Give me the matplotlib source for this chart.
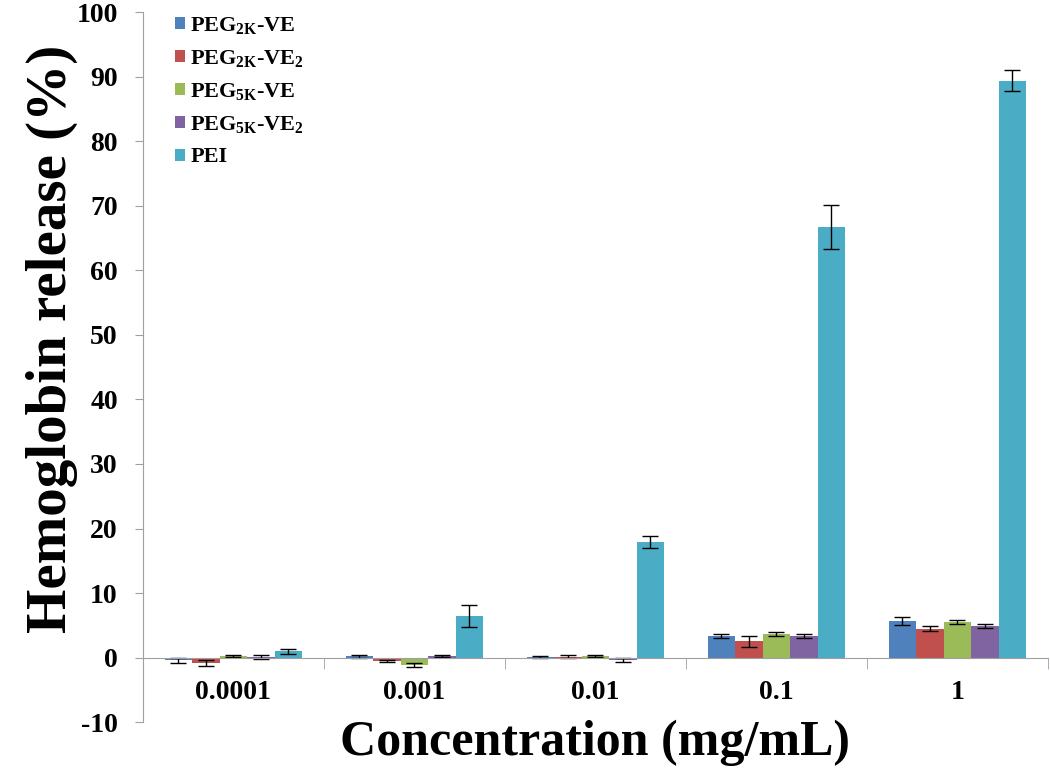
import numpy as np
import matplotlib.pyplot as plt

plt.rcParams['font.family'] = ['Liberation Serif', 'DejaVu Serif']
plt.rcParams['font.weight'] = 'bold'
plt.rcParams['mathtext.default'] = 'regular'
plt.rcParams['axes.unicode_minus'] = False

# Hemoglobin release data (%)
concentrations = ['0.0001', '0.001', '0.01', '0.1', '1']
series_names = ['PEG$_{2K}$-VE', 'PEG$_{2K}$-VE$_{2}$', 'PEG$_{5K}$-VE',
                'PEG$_{5K}$-VE$_{2}$', 'PEI']
peg2k_ve = [-0.4, 0.2, 0.1, 3.3, 5.7]
peg2k_ve_err = [0.4, 0.2, 0.15, 0.3, 0.65]
peg2k_ve2 = [-0.85, -0.5, 0.15, 2.5, 4.5]
peg2k_ve2_err = [0.4, 0.15, 0.25, 0.8, 0.35]
peg5k_ve = [0.2, -1.2, 0.2, 3.7, 5.5]
peg5k_ve_err = [0.15, 0.3, 0.15, 0.3, 0.35]
peg5k_ve2 = [0.1, 0.2, -0.35, 3.4, 4.95]
peg5k_ve2_err = [0.3, 0.15, 0.3, 0.3, 0.3]
pei = [0.95, 6.4, 17.9, 66.7, 89.4]
pei_err = [0.45, 1.7, 0.9, 3.4, 1.6]

values = [peg2k_ve, peg2k_ve2, peg5k_ve, peg5k_ve2, pei]
errors = [peg2k_ve_err, peg2k_ve2_err, peg5k_ve_err, peg5k_ve2_err, pei_err]
colors = ['#4F81BD', '#C0504D', '#9BBB59', '#8064A2', '#4BACC6']

fig = plt.figure(figsize=(10.5, 7.69), dpi=100)
ax = fig.add_axes([0.136, 0.061, 0.862, 0.923])

x = np.arange(len(concentrations))
width = 0.152
for i, (vals, errs, c, name) in enumerate(zip(values, errors, colors, series_names)):
    ax.bar(x + (i - 2) * width, vals, width, color=c, label=name, zorder=2,
           yerr=errs, error_kw=dict(ecolor='black', elinewidth=1, capsize=6, capthick=1))

ax.set_xlim(-0.5, len(concentrations) - 0.5)
ax.set_ylim(-10, 100)
ax.set_yticks(np.arange(-10, 101, 10))
ax.tick_params(axis='y', labelsize=20, length=6, color='#A0A0A0', direction='out', pad=12)

ax.spines['top'].set_visible(False)
ax.spines['right'].set_visible(False)
ax.spines['bottom'].set_position(('data', 0))
ax.spines['bottom'].set_color('#A0A0A0')
ax.spines['left'].set_color('#A0A0A0')

ax.set_xticks(x)
ax.set_xticklabels(concentrations)
ax.set_xticks(np.arange(-0.5, len(concentrations), 1), minor=True)
ax.tick_params(axis='x', which='major', length=0, labelsize=20, pad=16)
ax.tick_params(axis='x', which='minor', length=8, color='#A0A0A0', direction='out')

ax.set_ylabel('Hemoglobin release (%)', fontsize=41, fontweight='bold')
ax.yaxis.set_label_coords(-0.072, 0.54)
ax.set_xlabel('Concentration (mg/mL)', fontsize=36, fontweight='bold')
ax.xaxis.set_label_coords(0.5, 0.004)

ax.legend(loc='upper left', bbox_to_anchor=(0.013, 1.025), frameon=False,
          prop={'size': 16, 'weight': 'bold'}, handlelength=0.45, handleheight=0.45,
          handletextpad=0.25, labelspacing=0.55)

fig.savefig('out.png', dpi=100)
